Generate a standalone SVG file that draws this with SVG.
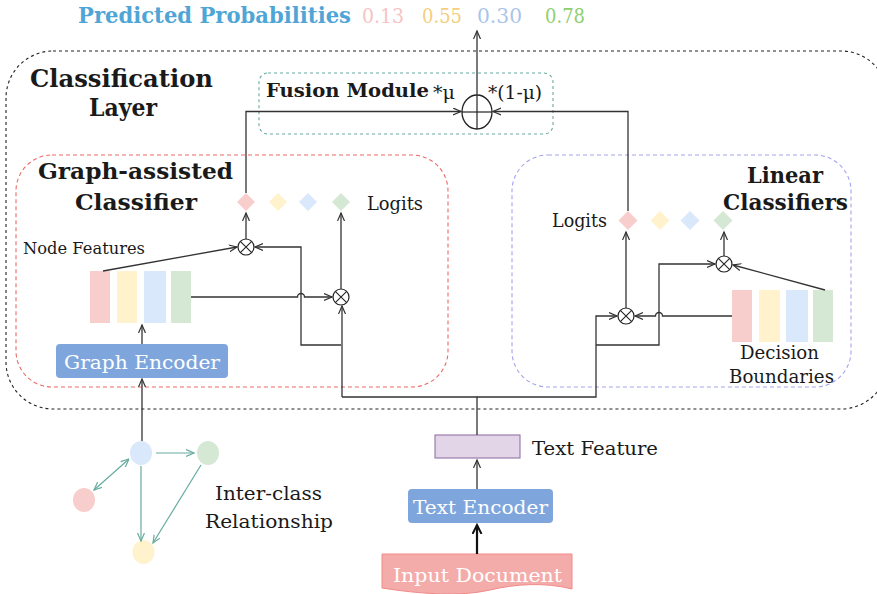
<svg xmlns="http://www.w3.org/2000/svg" width="877" height="594" viewBox="0 0 877 594">
<defs>
<marker id="arr" markerWidth="10" markerHeight="10" refX="8" refY="4" orient="auto" markerUnits="userSpaceOnUse">
<path d="M0,0.5 L8,4 L0,7.5" fill="none" stroke="#333" stroke-width="1.2"/>
</marker>
<marker id="arrT" markerWidth="10" markerHeight="10" refX="8" refY="4" orient="auto" markerUnits="userSpaceOnUse">
<path d="M0,0.5 L8,4 L0,7.5" fill="none" stroke="#67ab9f" stroke-width="1.2"/>
</marker>
<marker id="arrTs" markerWidth="10" markerHeight="10" refX="0" refY="4" orient="auto" markerUnits="userSpaceOnUse">
<path d="M8,0.5 L0,4 L8,7.5" fill="none" stroke="#67ab9f" stroke-width="1.2"/>
</marker>
<marker id="arrB" markerWidth="12" markerHeight="12" refX="9" refY="5" orient="auto" markerUnits="userSpaceOnUse">
<path d="M0,0.5 L9,5 L0,9.5" fill="none" stroke="#111" stroke-width="2"/>
</marker>
</defs>
<style>
.reg{font-family:"DejaVu Serif","Liberation Serif",serif;fill:#1a1a1a}
.bold{font-family:"DejaVu Serif","Liberation Serif",serif;font-weight:bold;fill:#1a1a1a}
.wt{font-family:"DejaVu Serif","Liberation Serif",serif;fill:#ffffff}
.ln{fill:none;stroke:#333;stroke-width:1.3}
.tl{fill:none;stroke:#67ab9f;stroke-width:1.2}
.pk{fill:#f8cecc}.yl{fill:#fff2cc}.bl{fill:#dae8fc}.gr{fill:#d5e8d4}
.ox{fill:#fff;stroke:#222;stroke-width:1.2}
</style>
<rect width="877" height="594" fill="#fff"/>

<g id="title">
<text class="bold" x="78" y="23" font-size="22" style="fill:#4fa6d6" textLength="273" lengthAdjust="spacingAndGlyphs">Predicted Probabilities</text>
<text class="reg" x="362" y="23" font-size="21" style="fill:#f6c3c3" textLength="42" lengthAdjust="spacingAndGlyphs">0.13</text>
<text class="reg" x="422" y="23" font-size="21" style="fill:#f3cf7e" textLength="40" lengthAdjust="spacingAndGlyphs">0.55</text>
<text class="reg" x="477" y="23" font-size="21" style="fill:#a9c4ea" textLength="45" lengthAdjust="spacingAndGlyphs">0.30</text>
<text class="reg" x="545" y="23" font-size="21" style="fill:#8fcf6f" textLength="40" lengthAdjust="spacingAndGlyphs">0.78</text>
</g>

<g id="classification-layer">
<rect x="6" y="51" width="882" height="358" rx="47" fill="none" stroke="#222" stroke-width="1.1" stroke-dasharray="3 3"/>
<text class="bold" x="30" y="87" font-size="24" textLength="183" lengthAdjust="spacingAndGlyphs">Classification</text>
<text class="bold" x="89" y="116" font-size="24" textLength="68" lengthAdjust="spacingAndGlyphs">Layer</text>
</g>

<g id="fusion-module">
<rect x="259" y="73" width="294" height="61" rx="9" fill="none" stroke="#67ab9f" stroke-width="1.1" stroke-dasharray="3 3"/>
<text class="bold" x="266" y="97" font-size="18" textLength="163" lengthAdjust="spacingAndGlyphs">Fusion Module</text>
<text class="reg" x="433" y="99" font-size="18" textLength="22" lengthAdjust="spacingAndGlyphs">*μ</text>
<text class="reg" x="488" y="99" font-size="18" textLength="54" lengthAdjust="spacingAndGlyphs">*(1-μ)</text>
<ellipse cx="477" cy="112" rx="15" ry="17" fill="#fff" stroke="#222" stroke-width="1.3"/>
<line x1="462" y1="112" x2="492" y2="112" stroke="#222" stroke-width="1.2"/>
<line x1="477" y1="129" x2="477" y2="95" stroke="#222" stroke-width="1.2"/>
</g>

<g id="graph-assisted-classifier">
<rect x="16" y="155" width="432" height="232" rx="36" fill="none" stroke="#ea6b66" stroke-width="1.1" stroke-dasharray="4 3"/>
<text class="bold" x="38" y="179" font-size="23" textLength="195" lengthAdjust="spacingAndGlyphs">Graph-assisted</text>
<text class="bold" x="75" y="210" font-size="23" textLength="122" lengthAdjust="spacingAndGlyphs">Classifier</text>
<text class="reg" x="367" y="210" font-size="18" textLength="56" lengthAdjust="spacingAndGlyphs">Logits</text>
<text class="reg" x="23" y="254" font-size="17" textLength="122" lengthAdjust="spacingAndGlyphs">Node Features</text>
</g>

<g id="graph-logits">
<path class="pk" d="M246,193 L255,202 L246,211 L237,202 Z"/>
<path class="yl" d="M278,193 L287,202 L278,211 L269,202 Z"/>
<path class="bl" d="M308,193 L317,202 L308,211 L299,202 Z"/>
<path class="gr" d="M341,193 L350,202 L341,211 L332,202 Z"/>
</g>

<g id="node-features">
<rect class="pk" x="90" y="271" width="20" height="52"/>
<rect class="yl" x="117" y="271" width="20" height="52"/>
<rect class="bl" x="144" y="271" width="22" height="52"/>
<rect class="gr" x="171" y="271" width="20" height="52"/>
</g>

<g id="graph-encoder">
<rect x="56" y="344" width="172" height="34" rx="4" fill="#7ea6dc"/>
<text class="wt" x="64" y="369" font-size="19" textLength="156" lengthAdjust="spacingAndGlyphs">Graph Encoder</text>
</g>

<g id="mul-1"><circle class="ox" cx="246" cy="247" r="8"/><path d="M240.3,241.3 L251.7,252.7 M251.7,241.3 L240.3,252.7" stroke="#222" stroke-width="1.1"/></g>
<g id="mul-2"><circle class="ox" cx="341" cy="297" r="8"/><path d="M335.3,291.3 L346.7,302.7 M346.7,291.3 L335.3,302.7" stroke="#222" stroke-width="1.1"/></g>

<g id="linear-classifiers">
<rect x="512" y="155" width="339" height="232" rx="36" fill="none" stroke="#a3a3ee" stroke-width="1.1" stroke-dasharray="4 3"/>
<text class="bold" x="747" y="183" font-size="23" textLength="76" lengthAdjust="spacingAndGlyphs">Linear</text>
<text class="bold" x="723" y="210" font-size="23" textLength="125" lengthAdjust="spacingAndGlyphs">Classifiers</text>
<text class="reg" x="552" y="227" font-size="18" textLength="55" lengthAdjust="spacingAndGlyphs">Logits</text>
<text class="reg" x="740" y="359" font-size="18" textLength="79" lengthAdjust="spacingAndGlyphs">Decision</text>
<text class="reg" x="729" y="383" font-size="18" textLength="105" lengthAdjust="spacingAndGlyphs">Boundaries</text>
</g>

<g id="linear-logits">
<path class="pk" d="M628,211 L637.5,220.5 L628,230 L618.5,220.5 Z"/>
<path class="yl" d="M660,211 L669.5,220.5 L660,230 L650.5,220.5 Z"/>
<path class="bl" d="M690,211 L699.5,220.5 L690,230 L680.5,220.5 Z"/>
<path class="gr" d="M723,211 L732.5,220.5 L723,230 L713.5,220.5 Z"/>
</g>

<g id="decision-boundaries">
<rect class="pk" x="732" y="290" width="20" height="52"/>
<rect class="yl" x="759" y="290" width="21" height="52"/>
<rect class="bl" x="786" y="290" width="22" height="52"/>
<rect class="gr" x="813" y="290" width="20" height="52"/>
</g>

<g id="mul-3"><circle class="ox" cx="626" cy="316" r="8"/><path d="M620.3,310.3 L631.7,321.7 M631.7,310.3 L620.3,321.7" stroke="#222" stroke-width="1.1"/></g>
<g id="mul-4"><circle class="ox" cx="724" cy="264" r="8"/><path d="M718.3,258.3 L729.7,269.7 M729.7,258.3 L718.3,269.7" stroke="#222" stroke-width="1.1"/></g>

<g id="graph-nodes">
<ellipse class="bl" cx="141" cy="453" rx="11" ry="12"/>
<ellipse class="gr" cx="208" cy="453" rx="11" ry="12"/>
<ellipse class="pk" cx="84" cy="500" rx="11" ry="12"/>
<ellipse class="yl" cx="143.5" cy="552" rx="11" ry="12"/>
<text class="reg" x="215" y="500" font-size="19" textLength="107" lengthAdjust="spacingAndGlyphs">Inter-class</text>
<text class="reg" x="205" y="528" font-size="19" textLength="128" lengthAdjust="spacingAndGlyphs">Relationship</text>
</g>

<g id="text-feature">
<rect x="435" y="435" width="85" height="23" fill="#e1d5e7" stroke="#9673a6" stroke-width="1.1"/>
<text class="reg" x="532" y="455" font-size="19" textLength="126" lengthAdjust="spacingAndGlyphs">Text Feature</text>
</g>

<g id="text-encoder">
<rect x="408" y="489" width="145" height="34" rx="4" fill="#7ea6dc"/>
<text class="wt" x="413" y="514" font-size="19" textLength="135" lengthAdjust="spacingAndGlyphs">Text Encoder</text>
</g>

<g id="input-document">
<path d="M382,554 H572 V589 C545,582 515,584 490,590 C460,597 420,594 382,588 Z" fill="#f4acab" stroke="#f08a88" stroke-width="1"/>
<text class="wt" x="393" y="582" font-size="19" textLength="169" lengthAdjust="spacingAndGlyphs">Input Document</text>
</g>

<g id="connectors">
<line class="ln" x1="477" y1="95" x2="477" y2="31" marker-end="url(#arr)"/>
<path class="ln" d="M246,193 V111.5 H461" marker-end="url(#arr)"/>
<path class="ln" d="M628,211 V111.5 H493" marker-end="url(#arr)"/>
<line class="ln" x1="103" y1="271" x2="237" y2="247" marker-end="url(#arr)"/>
<line class="ln" x1="246" y1="239" x2="246" y2="213" marker-end="url(#arr)"/>
<line class="ln" x1="341" y1="289" x2="341" y2="213" marker-end="url(#arr)"/>
<path class="ln" d="M191,297 H297.5 A3.5,3.5 0 0 1 304.5,297 H332" marker-end="url(#arr)"/>
<path class="ln" d="M341,345 H301 V247 H255" marker-end="url(#arr)"/>
<path class="ln" d="M342,397 V306" marker-end="url(#arr)"/>
<line class="ln" x1="142" y1="344" x2="142" y2="325" marker-end="url(#arr)"/>
<line class="ln" x1="142" y1="441" x2="142" y2="379" marker-end="url(#arr)"/>
<path class="ln" d="M477,435 V397 H342"/>
<path class="ln" d="M477,397 H596 V316 H617" marker-end="url(#arr)"/>
<path class="ln" d="M596,345 H659 V264 H715" marker-end="url(#arr)"/>
<path class="ln" d="M732,316 H662.5 A3.5,3.5 0 0 0 655.5,316 H635" marker-end="url(#arr)"/>
<line class="ln" x1="825" y1="290" x2="733" y2="265" marker-end="url(#arr)"/>
<line class="ln" x1="626" y1="308" x2="626" y2="232" marker-end="url(#arr)"/>
<line class="ln" x1="724" y1="256" x2="724" y2="232" marker-end="url(#arr)"/>
<line class="ln" x1="477" y1="489" x2="477" y2="460" marker-end="url(#arr)"/>
<line x1="477" y1="554" x2="477" y2="525" stroke="#111" stroke-width="2.2" marker-end="url(#arrB)"/>
<line class="tl" x1="156" y1="453" x2="194" y2="453" marker-end="url(#arrT)"/>
<line class="tl" x1="129" y1="459" x2="94" y2="490" marker-start="url(#arrTs)" marker-end="url(#arrT)"/>
<line class="tl" x1="141" y1="466" x2="141" y2="541" marker-end="url(#arrT)"/>
<line class="tl" x1="201" y1="465" x2="153" y2="543" marker-end="url(#arrT)"/>
</g>
</svg>
